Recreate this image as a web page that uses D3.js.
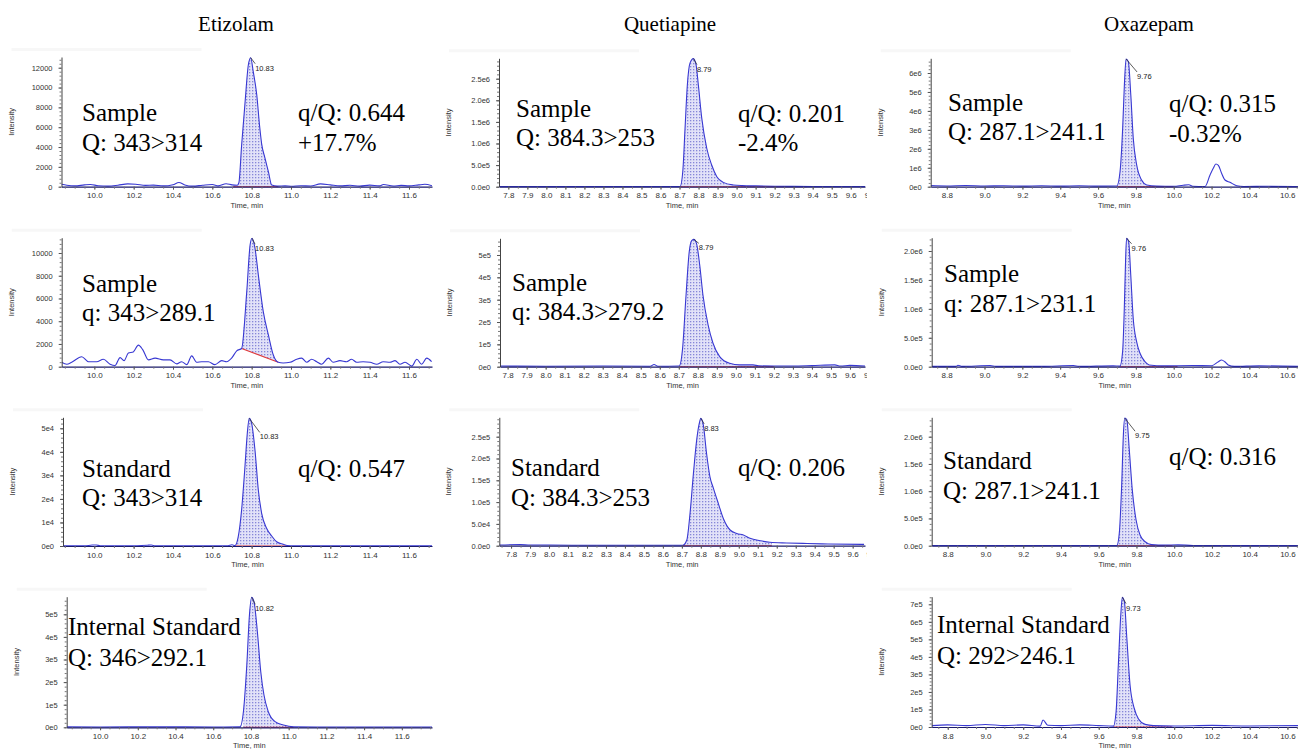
<!DOCTYPE html>
<html><head><meta charset="utf-8">
<script src="https://cdn.jsdelivr.net/npm/d3@7"></script>
<style>body{margin:0;background:#fff} svg{display:block;background:#fff}</style>
</head><body><svg id="c" width="1298" height="751"></svg>
<script>
// ---------------- DATA ----------------
const compounds = ["Etizolam", "Quetiapine", "Oxazepam"];

// chromatogram traces: [time (min), intensity]
const etizolamSampleQ = [[9.833,250],[9.86,150],[9.9,80],[9.95,180],[9.98,220],[10.02,100],[10.07,60],[10.12,150],[10.17,280],[10.21,250],[10.26,130],[10.3,160],[10.35,80],[10.4,200],[10.43,420],[10.46,180],[10.5,60],[10.55,150],[10.6,220],[10.63,80],[10.67,300],[10.7,180],[10.727,150],[10.735,400],[10.749,4200],[10.766,8400],[10.783,12270],[10.795,13010],[10.808,11600],[10.826,9250],[10.84,6200],[10.851,4300],[10.868,2860],[10.885,1510],[10.902,170],[10.93,60],[10.97,80],[11.0,50],[11.05,100],[11.1,70],[11.15,280],[11.2,180],[11.25,80],[11.3,140],[11.35,60],[11.4,160],[11.45,80],[11.47,220],[11.52,70],[11.56,130],[11.6,80],[11.65,180],[11.68,240],[11.717,100]];
const etizolamSampleQual = [[9.834,390],[9.86,210],[9.885,390],[9.936,880],[9.97,440],[10.012,440],[10.046,660],[10.08,220],[10.105,100],[10.131,800],[10.151,530],[10.173,1200],[10.198,1300],[10.224,1900],[10.246,1500],[10.275,600],[10.309,750],[10.351,600],[10.385,600],[10.419,250],[10.444,440],[10.47,180],[10.495,950],[10.52,390],[10.546,440],[10.58,440],[10.613,180],[10.648,530],[10.673,440],[10.698,750],[10.724,1400],[10.749,1600],[10.775,6600],[10.792,10700],[10.802,11300],[10.817,10400],[10.834,8060],[10.859,4840],[10.885,2790],[10.91,1030],[10.935,390],[10.96,330],[10.995,390],[11.029,660],[11.054,750],[11.08,390],[11.105,660],[11.131,440],[11.156,220],[11.19,750],[11.215,390],[11.249,530],[11.283,440],[11.308,660],[11.334,390],[11.367,440],[11.402,390],[11.436,220],[11.469,440],[11.503,390],[11.529,530],[11.554,220],[11.58,390],[11.614,50],[11.64,660],[11.664,220],[11.69,750],[11.715,440]];
const etizolamStdQ = [[9.841,100],[9.9,50],[9.95,80],[9.99,400],[10.01,450],[10.03,80],[10.1,60],[10.2,80],[10.27,350],[10.29,400],[10.31,80],[10.4,60],[10.5,80],[10.6,50],[10.68,100],[10.7,500],[10.715,200],[10.732,4000],[10.749,15300],[10.766,33700],[10.778,47900],[10.788,54200],[10.8,52100],[10.817,40800],[10.834,23800],[10.851,13900],[10.876,7500],[10.902,4250],[10.927,1800],[10.961,700],[10.98,200],[11.02,80],[11.1,60],[11.3,50],[11.5,80],[11.717,60]];
const etizolamIS = [[9.823,2000],[10.0,1500],[10.3,2000],[10.6,1500],[10.742,2000],[10.76,69000],[10.778,275700],[10.792,497000],[10.804,575000],[10.816,556000],[10.834,423000],[10.852,246000],[10.869,143000],[10.892,69000],[10.928,24800],[10.972,10000],[11.025,2000],[11.3,1500],[11.76,1500]];
const quetiapineSampleQ = [[7.751,5000],[7.9,3000],[8.1,5000],[8.3,3000],[8.5,5000],[8.65,3000],[8.703,5000],[8.717,347000],[8.729,1350000],[8.741,2350000],[8.755,2860000],[8.773,2965000],[8.787,2820000],[8.799,2350000],[8.817,1580000],[8.843,890000],[8.869,502000],[8.896,231000],[8.93,100000],[8.983,40000],[9.03,25000],[9.1,18000],[9.2,12000],[9.3,8000],[9.4,5000],[9.5,4000],[9.675,3000]];
const quetiapineSampleQual = [[7.76,3000],[8.0,2000],[8.3,3000],[8.55,2000],[8.57,10000],[8.59,2000],[8.702,3000],[8.72,82000],[8.737,306000],[8.755,515000],[8.767,563000],[8.779,570000],[8.793,552000],[8.81,455000],[8.827,321000],[8.854,187000],[8.88,105000],[8.915,45000],[8.967,15000],[9.02,8000],[9.09,8000],[9.12,4000],[9.2,3000],[9.3,3000],[9.4,5000],[9.52,8000],[9.55,3000],[9.6,6000],[9.679,3000]];
const quetiapineStdQ = [[7.738,1500],[7.85,2500],[7.9,1500],[8.0,1500],[8.2,1000],[8.4,1000],[8.6,1000],[8.705,1000],[8.726,13000],[8.743,74000],[8.761,166000],[8.778,242000],[8.792,281000],[8.8,292000],[8.813,277000],[8.83,212000],[8.848,158000],[8.866,132000],[8.892,97000],[8.918,63000],[8.954,36000],[8.989,28000],[9.024,24500],[9.059,17000],[9.112,11500],[9.164,7800],[9.252,6200],[9.36,5000],[9.47,4000],[9.66,3000]];
const oxazepamSampleQ = [[8.715,60000],[8.8,40000],[8.9,60000],[9.0,40000],[9.1,50000],[9.2,30000],[9.3,50000],[9.4,30000],[9.5,50000],[9.6,30000],[9.699,40000],[9.716,790000],[9.73,3080000],[9.739,5370000],[9.748,6740000],[9.76,6600000],[9.773,4840000],[9.786,2550000],[9.804,1150000],[9.83,350000],[9.857,90000],[9.91,30000],[10.0,20000],[10.05,80000],[10.08,100000],[10.1,20000],[10.165,10000],[10.192,617000],[10.209,970000],[10.223,1200000],[10.236,1130000],[10.253,707000],[10.271,353000],[10.297,232000],[10.333,53000],[10.37,10000],[10.5,20000],[10.657,10000]];
const oxazepamSampleQual = [[8.721,5000],[8.85,5000],[8.86,25000],[8.88,5000],[9.03,20000],[9.06,5000],[9.3,5000],[9.47,20000],[9.5,5000],[9.68,15000],[9.716,10000],[9.73,260000],[9.739,1010000],[9.746,1870000],[9.751,2220000],[9.762,2160000],[9.773,1590000],[9.786,837000],[9.804,432000],[9.822,232000],[9.848,86000],[9.87,30000],[9.95,15000],[10.1,20000],[10.2,17000],[10.236,86000],[10.253,116000],[10.27,86000],[10.288,30000],[10.32,5000],[10.45,15000],[10.657,5000]];
const oxazepamStdQ = [[8.715,3000],[9.0,3000],[9.3,3000],[9.6,3000],[9.696,3000],[9.709,227000],[9.722,1140000],[9.731,2060000],[9.738,2340000],[9.749,2310000],[9.762,1760000],[9.778,1020000],[9.798,472000],[9.819,196000],[9.846,73000],[9.88,20000],[9.95,10000],[10.02,15000],[10.1,5000],[10.656,3000]];
const oxazepamIS = [[8.715,8000],[8.8,12000],[8.9,8000],[9.0,14000],[9.1,8000],[9.2,12000],[9.29,5000],[9.305,40000],[9.33,10000],[9.4,8000],[9.5,12000],[9.6,8000],[9.678,5000],[9.692,87000],[9.704,354000],[9.717,640000],[9.725,740000],[9.736,715000],[9.749,506000],[9.766,240000],[9.788,107000],[9.811,46000],[9.846,15000],[9.89,8000],[10.0,6000],[10.2,9000],[10.4,6000],[10.657,8000]];

// integration windows: [start time, end time, baseline intensity at start, at end]
const integrationWindows = [
  [10.706,10.935,0,0],[10.749,10.935,1600,390],[10.71,10.98,0,0],[10.76,11.025,0,0],
  [8.703,9.369,0,0],[8.702,9.2,0,0],[8.705,9.174,0,0],
  [9.699,9.998,0,0],[9.716,10.02,0,0],[9.696,9.99,0,0],[9.678,9.99,0,0]
];
const retentionLabels = ["10.83","10.83","10.83","10.82","8.79","8.79","8.83","9.76","9.76","9.75","9.73"];

// tick labels
const etizolamTimeTicks = [10.0,10.2,10.4,10.6,10.8,11.0,11.2,11.4,11.6];
const quetiapineTimeTicks = [7.8,7.9,8.0,8.1,8.2,8.3,8.4,8.5,8.6,8.7,8.8,8.9,9.0,9.1,9.2,9.3,9.4,9.5,9.6,9.7];
const oxazepamTimeTicks = [8.8,9.0,9.2,9.4,9.6,9.8,10.0,10.2,10.4,10.6];

const yTickValues = [
  [0,2000,4000,6000,8000,10000,12000],
  [0,2000,4000,6000,8000,10000],
  [0,1e4,2e4,3e4,4e4,5e4],
  [0,1e5,2e5,3e5,4e5,5e5],
  [0,5e5,1e6,1.5e6,2e6,2.5e6],
  [0,1e5,2e5,3e5,4e5,5e5],
  [0,5e4,1e5,1.5e5,2e5,2.5e5],
  [0,1e6,2e6,3e6,4e6,5e6,6e6],
  [0,5e5,1e6,1.5e6,2e6],
  [0,5e5,1e6,1.5e6,2e6],
  [0,1e5,2e5,3e5,4e5,5e5,6e5,7e5]
];
const yTickLabels = [
  ["0","2000","4000","6000","8000","10000","12000"],
  ["0","2000","4000","6000","8000","10000"],
  ["0e0","1e4","2e4","3e4","4e4","5e4"],
  ["0e0","1e5","2e5","3e5","4e5","5e5"],
  ["0.0e0","5.0e5","1.0e6","1.5e6","2.0e6","2.5e6"],
  ["0e0","1e5","2e5","3e5","4e5","5e5"],
  ["0.0e0","5.0e4","1.0e5","1.5e5","2.0e5","2.5e5"],
  ["0e0","1e6","2e6","3e6","4e6","5e6","6e6"],
  ["0.0e0","5.0e5","1.0e6","1.5e6","2.0e6"],
  ["0.0e0","5.0e5","1.0e6","1.5e6","2.0e6"],
  ["0e0","1e5","2e5","3e5","4e5","5e5","6e5","7e5"]
];

const sampleLabels = [
  ["Sample","Q: 343>314"],["Sample","q: 343>289.1"],["Standard","Q: 343>314"],["Internal Standard","Q: 346>292.1"],
  ["Sample","Q: 384.3>253"],["Sample","q: 384.3>279.2"],["Standard","Q: 384.3>253"],
  ["Sample","Q: 287.1>241.1"],["Sample","q: 287.1>231.1"],["Standard","Q: 287.1>241.1"],["Internal Standard","Q: 292>246.1"]
];
const ratioLabels = [
  ["q/Q: 0.644","+17.7%"],[],["q/Q: 0.547"],[],
  ["q/Q: 0.201","-2.4%"],[],["q/Q: 0.206"],
  ["q/Q: 0.315","-0.32%"],[],["q/Q: 0.316"],[]
];

const traces = [etizolamSampleQ, etizolamSampleQual, etizolamStdQ, etizolamIS,
  quetiapineSampleQ, quetiapineSampleQual, quetiapineStdQ,
  oxazepamSampleQ, oxazepamSampleQual, oxazepamStdQ, oxazepamIS];
const timeTicks = [etizolamTimeTicks, quetiapineTimeTicks, oxazepamTimeTicks];

// ---------------- LAYOUT ----------------
const layout = [
  {col:0, x0:61.5, x1:432, top:57, base:186.7, t:[9.833,11.717], ymax:13080, s:[82,121,151], r:[298,121,151], rt:[4.5,13]},
  {col:0, x0:61.7, x1:432, top:237.7, base:366.7, t:[9.834,11.717], ymax:11346, s:[82,292,321], r:null, rt:[3,13]},
  {col:0, x0:63, x1:432, top:417.3, base:546, t:[9.841,11.717], ymax:54670, s:[82,477,506], r:[298,477,506], rt:[10.5,21]},
  {col:0, x0:66.7, x1:432, top:596.7, base:727.3, t:[9.823,11.76], ymax:577900, s:[68,635,666], r:null, rt:[3.5,14]},
  {col:1, x0:499, x1:865, top:58.3, base:186.7, t:[7.751,9.675], ymax:2972000, s:[516,117,146], r:[738,122,151], rt:[3.5,13]},
  {col:1, x0:500, x1:865, top:238.3, base:366.7, t:[7.760,9.679], ymax:574700, s:[512,291,320], r:null, rt:[5,11]},
  {col:1, x0:499.3, x1:865, top:417.3, base:545.7, t:[7.738,9.665], ymax:294500, s:[511,476,506], r:[738,476,506], rt:[3.3,12.5]},
  {col:2, x0:930.7, x1:1298, top:58.3, base:186.7, t:[8.715,10.657], ymax:6776000, s:[948,111,140], r:[1169,112,142], rt:[11,20]},
  {col:2, x0:931.7, x1:1298, top:237.7, base:366.7, t:[8.721,10.657], ymax:2230000, s:[944,282,312], r:null, rt:[5,12.5]},
  {col:2, x0:931.7, x1:1298, top:417.3, base:545.7, t:[8.715,10.656], ymax:2356000, s:[943,469,499], r:[1169,465,495], rt:[10.3,20]},
  {col:2, x0:931.7, x1:1298, top:596.7, base:727, t:[8.715,10.656], ymax:743400, s:[937,633,664], r:null, rt:[3.7,13.3]}
];
const titleX = [236, 670, 1149];

// ---------------- DRAW ----------------
const svg = d3.select('#c');
svg.append('rect').attr('width',1298).attr('height',751).attr('fill','#fff');
const defs = svg.append('defs');
const pat = defs.append('pattern').attr('id','dots').attr('width',3).attr('height',3).attr('patternUnits','userSpaceOnUse');
pat.append('rect').attr('width',3).attr('height',3).attr('fill','#e2e2f8');
pat.append('rect').attr('width',1.3).attr('height',1.3).attr('fill','#8686d8');

const serif = "'Liberation Serif','Times New Roman',serif";
const sans = "'Liberation Sans',Arial,sans-serif";

compounds.forEach((c,i)=>{
  svg.append('text').attr('x',titleX[i]).attr('y',31).attr('text-anchor','middle')
    .attr('font-family',serif).attr('font-size',21).attr('fill','#000').text(c);
});

function interp(tr, t){
  for(let i=0;i<tr.length-1;i++){
    if(tr[i][0]<=t && tr[i+1][0]>=t){
      const f=(t-tr[i][0])/(tr[i+1][0]-tr[i][0]);
      return tr[i][1]+f*(tr[i+1][1]-tr[i][1]);
    }
  }
  return 0;
}

layout.forEach((L,i)=>{
  const tr = traces[i];
  const x = d3.scaleLinear().domain(L.t).range([L.x0, L.x1]);
  const y = d3.scaleLinear().domain([0, L.ymax]).range([L.base, L.top]);
  const g = svg.append('g');
  const cid = 'clip'+i;
  defs.append('clipPath').attr('id',cid).append('rect')
    .attr('x',L.x0).attr('y',L.top-3).attr('width',L.x1-L.x0).attr('height',L.base-L.top+4);
  const lid = 'lclip'+i;
  defs.append('clipPath').attr('id',lid).append('rect')
    .attr('x',L.x0-60).attr('y',L.top-12).attr('width',L.x1-L.x0+62).attr('height',L.base-L.top+40);

  // faint header strip of the software pane
  g.append('rect').attr('x',L.x0-50).attr('y',L.top-9).attr('width',190).attr('height',3)
    .attr('fill','#f7f7f7');

  // integrated area
  const [s,e,bs,be] = integrationWindows[i];
  const seg = [[s, interp(tr,s)]].concat(tr.filter(d=>d[0]>s && d[0]<e)).concat([[e, interp(tr,e)]]);
  const base = t => bs + (be-bs)*(t-s)/(e-s);
  const plot = g.append('g').attr('clip-path',`url(#${cid})`);
  plot.append('path').datum(seg)
    .attr('d', d3.area().curve(d3.curveMonotoneX).x(d=>x(d[0])).y0(d=>y(base(d[0]))).y1(d=>y(Math.max(d[1],base(d[0])))))
    .attr('fill','url(#dots)').attr('stroke','none');

  // axes
  const ax = g.append('g').attr('clip-path',`url(#${lid})`);
  const yMinor = [];
  const yt = yTickValues[i];
  const step = yt[1]-yt[0];
  for(let v=0; v<=L.ymax; v+=step/5) yMinor.push(v);
  ax.append('g').attr('transform',`translate(${L.x0},0)`)
    .call(d3.axisLeft(y).tickValues(yMinor).tickSize(2).tickSizeOuter(0).tickFormat(''))
    .call(a=>a.selectAll('line').attr('stroke','#777'))
    .call(a=>a.select('.domain').attr('stroke','#444'));
  ax.append('g').attr('transform',`translate(${L.x0},0)`)
    .call(d3.axisLeft(y).tickValues(yt).tickSize(3).tickPadding(6).tickSizeOuter(0).tickFormat((d,k)=>yTickLabels[i][k]))
    .call(a=>a.select('.domain').remove())
    .call(a=>a.selectAll('line').attr('stroke','#555'))
    .call(a=>a.selectAll('text').attr('font-family',sans).attr('font-size',7.5).attr('fill','#333'));

  const xt = timeTicks[L.col];
  const xMinor = [];
  const xs = 0.05;
  for(let v=Math.ceil(L.t[0]/xs)*xs; v<=L.t[1]; v+=xs) xMinor.push(v);
  ax.append('g').attr('transform',`translate(0,${L.base})`)
    .call(d3.axisBottom(x).tickValues(xMinor).tickSize(2).tickSizeOuter(0).tickFormat(''))
    .call(a=>a.selectAll('line').attr('stroke','#777'))
    .call(a=>a.select('.domain').attr('stroke','#1a1a6a').attr('stroke-width',1.2));
  ax.append('g').attr('transform',`translate(0,${L.base})`)
    .call(d3.axisBottom(x).tickValues(xt).tickSize(3).tickPadding(3).tickSizeOuter(0).tickFormat(d3.format('.1f')))
    .call(a=>a.select('.domain').remove())
    .call(a=>a.selectAll('line').attr('stroke','#555'))
    .call(a=>a.selectAll('text').attr('font-family',sans).attr('font-size',8).attr('fill','#333'));

  g.append('text').attr('x',(L.x0+L.x1)/2).attr('y',L.base+21).attr('text-anchor','middle')
    .attr('font-family',sans).attr('font-size',7.5).attr('fill','#333').text('Time, min');
  g.append('text').attr('transform',`translate(${L.x0-48},${(L.top+L.base)/2}) rotate(-90)`)
    .attr('text-anchor','middle').attr('font-family',sans).attr('font-size',7.5).attr('fill','#333').text('Intensity');

  // red baseline
  plot.append('line').attr('x1',x(s)).attr('x2',x(e)).attr('y1',y(bs)).attr('y2',y(be))
    .attr('stroke','#e03a3a').attr('stroke-width',1.1);

  // trace
  plot.append('path').datum(tr)
    .attr('d', d3.line().curve(d3.curveMonotoneX).x(d=>x(d[0])).y(d=>y(d[1])))
    .attr('fill','none').attr('stroke','#3838d2').attr('stroke-width',1.1);

  // retention time label
  const apex = seg.reduce((a,b)=>b[1]>a[1]?b:a);
  const axp = x(apex[0]), ayp = y(apex[1]);
  const lx = axp + L.rt[0], ly = ayp + L.rt[1];
  g.append('line').attr('x1',axp).attr('y1',ayp).attr('x2',lx).attr('y2',ly-7)
    .attr('stroke','#333').attr('stroke-width',0.8);
  g.append('text').attr('x',lx).attr('y',ly).attr('font-family',sans).attr('font-size',7.5)
    .attr('fill','#222').text(retentionLabels[i]);

  // annotation texts
  const sl = sampleLabels[i];
  g.append('text').attr('x',L.s[0]).attr('y',L.s[1]).attr('font-family',serif).attr('font-size',25).attr('fill','#000').text(sl[0]);
  g.append('text').attr('x',L.s[0]).attr('y',L.s[2]).attr('font-family',serif).attr('font-size',25).attr('fill','#000').text(sl[1]);
  const rl = ratioLabels[i];
  if(L.r){
    rl.forEach((t,k)=>{
      g.append('text').attr('x',L.r[0]).attr('y',L.r[1+k]).attr('font-family',serif).attr('font-size',25).attr('fill','#000').text(t);
    });
  }
});
</script>
</body></html>
